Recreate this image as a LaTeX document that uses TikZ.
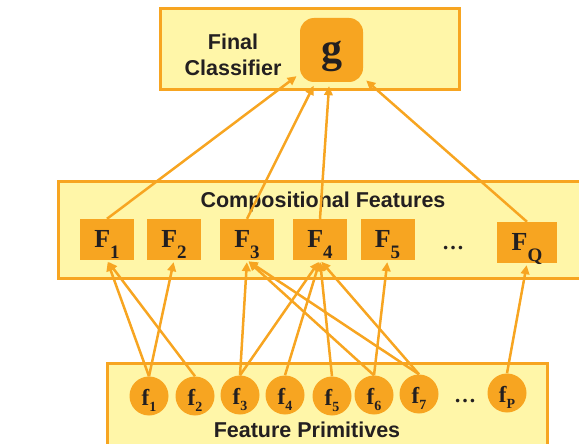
\documentclass[tikz,border=0pt]{standalone}
\usepackage{fontspec}
\setmainfont{Liberation Serif}
\setsansfont{Liberation Sans}
\usepackage{tikz}
\usetikzlibrary{arrows.meta}

\definecolor{featorange}{HTML}{F7A521}
\definecolor{panelyellow}{HTML}{FFF6A8}
\definecolor{inkdark}{HTML}{231F20}

% bold serif labels with a lowered index
\newcommand{\compname}[1]{\fontsize{26}{26}\selectfont\bfseries F\raisebox{-11pt}{\fontsize{19}{19}\selectfont #1}}
\newcommand{\primname}[1]{\fontsize{23}{23}\selectfont\bfseries f\raisebox{-6pt}{\fontsize{14}{14}\selectfont #1}}

\begin{document}
\begin{tikzpicture}[x=1pt, y=-1pt, >={Triangle[length=9pt, width=8.5pt]},
        panel/.style={draw=featorange, fill=panelyellow, line width=3pt},
        layertitle/.style={text=inkdark, font=\sffamily\bfseries\fontsize{21.5}{26}\selectfont},
        compbox/.style={fill=featorange, text=inkdark, minimum width=54pt, minimum height=41pt,
            inner sep=0pt, text height=26pt, text depth=11pt},
        primnode/.style={circle, fill=featorange, text=inkdark, minimum size=39pt,
            inner sep=0pt, text height=24pt, text depth=6pt},
        link/.style={draw=featorange, line width=2.5pt}]
        \clip (0,0) rectangle (579,444);

        % the three layers
        \draw [panel] (160,9) rectangle (459,90);
        \draw [panel] (58,181) rectangle (600,278);
        \draw [panel] (107,363) rectangle (547,470);

        % final classifier
        \node [layertitle, align=center] (finaltitle) at (233,55) {Final\\Classifier};
        \node [fill=featorange, rounded corners=14pt, minimum width=63pt, minimum height=64pt,
            inner sep=0pt, text=inkdark, text height=26pt, text depth=0pt,
            font=\fontsize{42}{42}\selectfont\bfseries] (g) at (331.5,50) {g};

        % compositional features
        \node [layertitle] (comptitle) at (323,202) {Compositional Features};
        \node [compbox] (F1) at (107,239.5) {\compname{1}};
        \node [compbox] (F2) at (174,239.5) {\compname{2}};
        \node [compbox] (F3) at (247,239.5) {\compname{3}};
        \node [compbox] (F4) at (320,239.5) {\compname{4}};
        \node [compbox] (F5) at (387.5,239.5) {\compname{5}};
        \node [anchor=base, text=inkdark, font=\fontsize{22}{22}\selectfont\bfseries] (Fdots) at (453,249) {\ldots};
        \node [compbox, minimum width=60pt] (FQ) at (527,242.5) {\compname{Q}};

        % feature primitives
        \node [primnode] (f1) at (149,396) {\primname{1}};
        \node [primnode] (f2) at (195,396) {\primname{2}};
        \node [primnode] (f3) at (240,395) {\primname{3}};
        \node [primnode] (f4) at (285,395) {\primname{4}};
        \node [primnode] (f5) at (332,396) {\primname{5}};
        \node [primnode] (f6) at (374,395) {\primname{6}};
        \node [primnode] (f7) at (419,394) {\primname{7}};
        \node [anchor=base, text=inkdark, font=\fontsize{22}{22}\selectfont\bfseries] (fdots) at (465,402) {\ldots};
        \node [primnode] (fP) at (507,393) {\primname{P}};
        \node [layertitle] (primtitle) at (307,430) {Feature Primitives};

        % features to classifier
        \draw [link, ->, shorten >=4pt] (F1.north) -- (g);
        \draw [link, ->, shorten >=4pt] (F3.north) -- (g);
        \draw [link, ->, shorten >=4pt] (F4.north) -- (g);
        \draw [link, ->, shorten >=4pt] (FQ.north) -- (g);

        % primitives to features
        \draw [link, ->, shorten >=2pt] (f1.north) -- (F1.south);
        \draw [link, ->, shorten >=2pt] (f2.north) -- (F1.south);
        \draw [link, ->, shorten >=2pt] (f1.north) -- (F2.south);
        \draw [link, ->, shorten >=2pt] (f3.north) -- (F3.south);
        \draw [link, ->, shorten >=2pt] (f6.north) -- (F3.south);
        \draw [link, ->, shorten >=2pt] (f7.north) -- (F3.south);
        \draw [link, ->, shorten >=2pt] (f3.north) -- (F4.south);
        \draw [link, ->, shorten >=2pt] (f4.north) -- (F4.south);
        \draw [link, ->, shorten >=2pt] (f5.north) -- (F4.south);
        \draw [link, ->, shorten >=2pt] (f7.north) -- (F4.south);
        \draw [link, ->, shorten >=2pt] (f6.north) -- (F5.south);
        \draw [link, ->, shorten >=2pt] (fP.north) -- (FQ.south);
    \end{tikzpicture}
\end{document}
